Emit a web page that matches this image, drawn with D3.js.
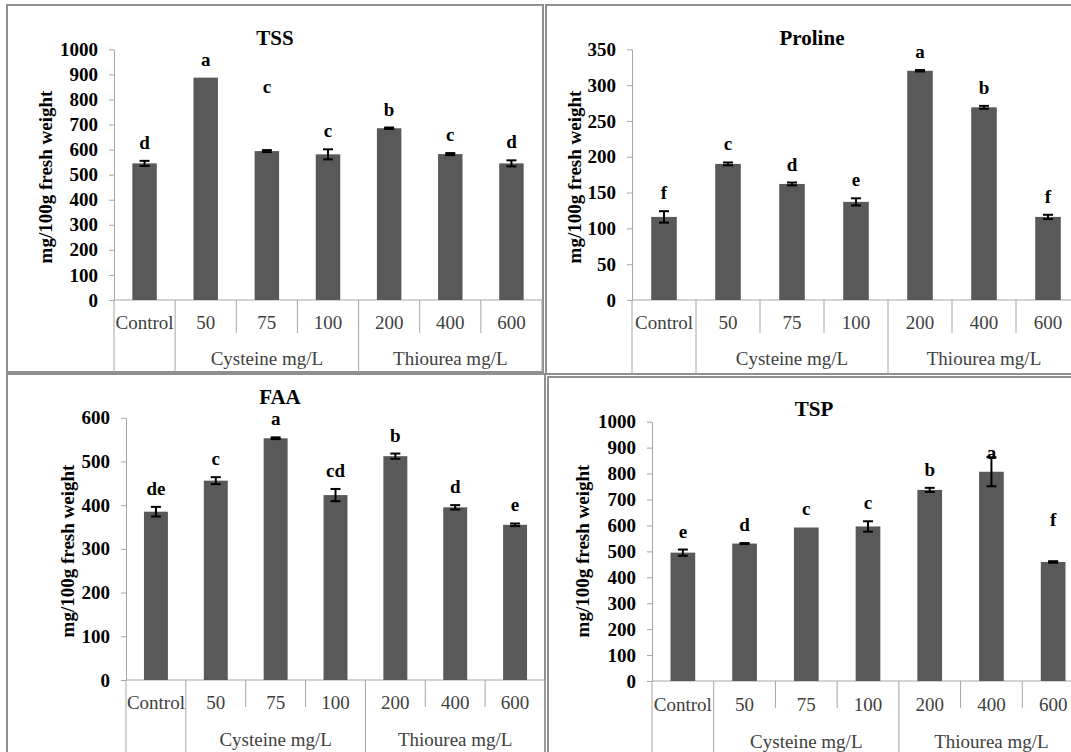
<!DOCTYPE html>
<html>
<head>
<meta charset="utf-8">
<script src="https://cdn.jsdelivr.net/npm/d3@7"></script>
<style>
    body { margin: 0; background: #fff; }
    svg { display: block; }
    svg text { font-family: "Liberation Serif", "Times New Roman", serif; }
    svg text.heavy { font-weight: bold; fill: #000; }
</style>
</head>
<body>
<svg id="chart" width="1071" height="752"></svg>
<script>
// shared category axis
const categories = ["Control", "50", "75", "100", "200", "400", "600"];
const groupLabels = ["", "Cysteine mg/L", "Thiourea mg/L"];
const groupSpans = [1, 3, 3];
const yAxisTitle = "mg/100g fresh weight";

// TSS
const tssMean = [545, 887, 594, 581, 685, 582, 545];
const tssErr = [10, 0, 4, 20, 3, 4, 12];
const tssLetters = ["d", "a", "c", "c", "b", "c", "d"];
const tssLetterAt = [null, null, 825, null, null, null, null];
const tssTicks = [0, 100, 200, 300, 400, 500, 600, 700, 800, 900, 1000];

// Proline
const prolineMean = [116, 190, 162, 137, 320, 269, 116];
const prolineErr = [8, 2, 2, 5, 1, 2, 3];
const prolineLetters = ["f", "c", "d", "e", "a", "b", "f"];
const prolineLetterAt = [null, null, null, null, null, null, null];
const prolineTicks = [0, 50, 100, 150, 200, 250, 300, 350];

// FAA
const faaMean = [385, 456, 553, 423, 512, 395, 355];
const faaErr = [11, 8, 2, 14, 6, 5, 3];
const faaLetters = ["de", "c", "a", "cd", "b", "d", "e"];
const faaLetterAt = [null, null, null, null, null, null, null];
const faaTicks = [0, 100, 200, 300, 400, 500, 600];

// TSP
const tspMean = [495, 530, 592, 596, 737, 807, 459];
const tspErr = [12, 2, 0, 20, 8, 56, 3];
const tspLetters = ["e", "d", "c", "c", "b", "a", "f"];
const tspLetterAt = [null, null, null, null, null, 858, 598];
const tspTicks = [0, 100, 200, 300, 400, 500, 600, 700, 800, 900, 1000];

const barColor = "#595959";
const axisColor = "#a6a6a6";
const borderColor = "#8f8f8f";

const svg = d3.select("#chart");

const panels = [
    {
        title: "TSS", mean: tssMean, err: tssErr, letters: tssLetters, letterAt: tssLetterAt, ticks: tssTicks,
        border: {x: 7, y: 5, w: 536, h: 367},
        plot: {left: 114, right: 542, top: 49.3, bottom: 300},
        titlePos: [275, 45], axisTitlePos: [45, 177],
        labelY: 329, groupY: 365, shortEnd: 333, longEnd: 372
    },
    {
        title: "Proline", mean: prolineMean, err: prolineErr, letters: prolineLetters, letterAt: prolineLetterAt, ticks: prolineTicks,
        border: {x: 546, y: 5, w: 530, h: 369},
        plot: {left: 632, right: 1080, top: 49.3, bottom: 300},
        titlePos: [812, 45], axisTitlePos: [574, 177],
        labelY: 329, groupY: 365, shortEnd: 333, longEnd: 374
    },
    {
        title: "FAA", mean: faaMean, err: faaErr, letters: faaLetters, letterAt: faaLetterAt, ticks: faaTicks,
        border: {x: 7, y: 374, w: 538, h: 390},
        plot: {left: 126, right: 545, top: 417.7, bottom: 680},
        titlePos: [280, 404], axisTitlePos: [67, 551],
        labelY: 709, groupY: 746, shortEnd: 707, longEnd: 760
    },
    {
        title: "TSP", mean: tspMean, err: tspErr, letters: tspLetters, letterAt: tspLetterAt, ticks: tspTicks,
        border: {x: 548, y: 377, w: 530, h: 390},
        plot: {left: 652, right: 1084, top: 421.7, bottom: 681},
        titlePos: [814, 416], axisTitlePos: [582, 551],
        labelY: 711, groupY: 748, shortEnd: 708, longEnd: 760
    }
];

function drawPanel(p)
{
    const g = svg.append("g");
    const yMax = p.ticks[p.ticks.length - 1];

    const x = d3.scaleBand()
        .domain(categories)
        .range([p.plot.left, p.plot.right])
        .paddingInner(0.6)
        .paddingOuter(0.3);

    const y = d3.scaleLinear()
        .domain([0, yMax])
        .range([p.plot.bottom, p.plot.top]);

    const step = x.step();
    const cx = d => x(d.cat) + x.bandwidth() / 2;
    const rows = categories.map((c, i) => ({
        cat: c, mean: p.mean[i], err: p.err[i], letter: p.letters[i], at: p.letterAt[i]
    }));

    // panel frame
    g.append("rect")
        .attr("x", p.border.x)
        .attr("y", p.border.y)
        .attr("width", p.border.w)
        .attr("height", p.border.h)
        .attr("fill", "#fff")
        .attr("stroke", borderColor)
        .attr("stroke-width", 2);

    // y axis
    const yAxis = g.append("g")
        .attr("transform", `translate(${p.plot.left},0)`)
        .call(d3.axisLeft(y)
            .tickValues(p.ticks)
            .tickFormat(d3.format("d"))
            .tickSize(5)
            .tickSizeOuter(0)
            .tickPadding(11));
    yAxis.attr("font-family", null).attr("font-size", null);
    yAxis.select(".domain").attr("stroke", axisColor);
    yAxis.selectAll(".tick line").attr("stroke", axisColor);
    yAxis.selectAll(".tick text")
        .attr("class", "heavy")
        .style("font-size", "19px");

    // x axis line
    g.append("line")
        .attr("x1", p.plot.left)
        .attr("x2", p.plot.right)
        .attr("y1", y(0))
        .attr("y2", y(0))
        .attr("stroke", axisColor);

    // category boundaries: long at group edges, short otherwise
    const groupEdges = [0];
    groupSpans.reduce((acc, s) => { groupEdges.push(acc + s); return acc + s; }, 0);
    d3.range(categories.length + 1).forEach(i => {
        const bx = p.plot.left + i * step;
        g.append("line")
            .attr("x1", bx)
            .attr("x2", bx)
            .attr("y1", y(0))
            .attr("y2", groupEdges.includes(i) ? p.longEnd : p.shortEnd)
            .attr("stroke", axisColor);
    });

    g.selectAll(".cat-label")
        .data(categories)
        .join("text")
        .attr("x", d => x(d) + x.bandwidth() / 2)
        .attr("y", p.labelY)
        .attr("text-anchor", "middle")
        .attr("fill", "#404040")
        .style("font-size", "19px")
        .text(d => d);

    g.selectAll(".group-label")
        .data(groupLabels)
        .join("text")
        .attr("x", (d, i) => p.plot.left + step * (groupEdges[i] + groupSpans[i] / 2))
        .attr("y", p.groupY)
        .attr("text-anchor", "middle")
        .attr("fill", "#404040")
        .style("font-size", "19px")
        .text(d => d);

    // bars
    g.selectAll(".bar")
        .data(rows)
        .join("rect")
        .attr("x", d => x(d.cat))
        .attr("y", d => y(d.mean))
        .attr("width", x.bandwidth())
        .attr("height", d => y(0) - y(d.mean))
        .attr("fill", barColor);

    // error bars
    const eb = g.selectAll(".err")
        .data(rows.filter(d => d.err > 0))
        .join("g")
        .attr("stroke", "#000")
        .attr("stroke-width", 2);
    eb.append("line")
        .attr("x1", cx)
        .attr("x2", cx)
        .attr("y1", d => y(d.mean - d.err))
        .attr("y2", d => y(d.mean + d.err));
    [-1, 1].forEach(sgn => {
        eb.append("line")
            .attr("x1", d => cx(d) - 5)
            .attr("x2", d => cx(d) + 5)
            .attr("y1", d => y(d.mean + sgn * d.err))
            .attr("y2", d => y(d.mean + sgn * d.err));
    });

    // significance letters
    g.selectAll(".letter")
        .data(rows)
        .join("text")
        .attr("class", "heavy")
        .attr("x", cx)
        .attr("y", d => d.at != null ? y(d.at) : y(d.mean + d.err) - 12)
        .attr("text-anchor", "middle")
        .style("font-size", "19px")
        .text(d => d.letter);

    // titles
    g.append("text")
        .attr("class", "heavy")
        .attr("x", p.titlePos[0])
        .attr("y", p.titlePos[1])
        .attr("text-anchor", "middle")
        .style("font-size", "21px")
        .text(p.title);

    g.append("text")
        .attr("class", "heavy")
        .attr("transform", `translate(${p.axisTitlePos[0]},${p.axisTitlePos[1]}) rotate(-90)`)
        .attr("text-anchor", "middle")
        .attr("dy", "0.35em")
        .style("font-size", "19px")
        .text(yAxisTitle);
}

panels.forEach(drawPanel);
</script>
</body>
</html>
